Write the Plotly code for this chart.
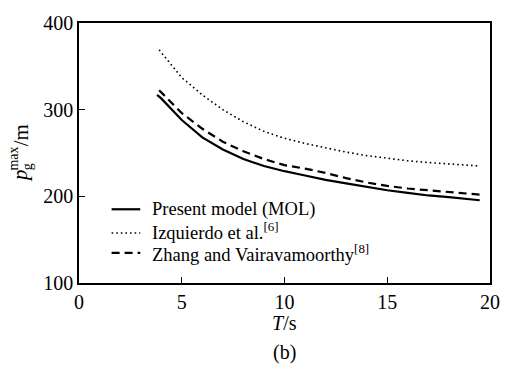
import plotly.graph_objects as go

T = [3.8, 4, 5, 6, 7, 8, 9, 10, 11, 12, 13, 14, 15, 16, 17, 18, 19, 19.5]
present = [317, 313, 288, 268, 254, 243, 235, 229, 224, 219, 215, 211, 207, 204, 201, 199, 196.5, 195.5]
T_iz = [3.9, 4, 5, 6, 7, 8, 9, 10, 11, 12, 13, 14, 15, 16, 17, 18, 19, 19.5]
izquierdo = [369, 366, 337, 317, 300, 286, 275, 267, 261, 256, 251, 247, 244, 241, 239, 237.5, 236, 235]
zhang = [322.5, 320, 296, 278, 263, 252, 243, 236, 232, 227, 221, 216, 212, 209, 207, 205, 203, 202]

names = ["Present model (MOL)", "Izquierdo et al.<sup>[6]</sup>", "Zhang and Vairavamoorthy<sup>[8]</sup>"]
x_ticks = [0, 5, 10, 15, 20]
y_ticks = [100, 200, 300, 400]

FONT = "Times New Roman, Liberation Serif, DejaVu Serif, serif"
W, H = 512, 370
L, R, TOP, B = 79, 17, 15, 87
PW, PH = W - L - R, H - TOP - B


def px(x):
    return (x - L) / PW


def py(y):
    return (H - B - y) / PH


styles = [dict(color="black", width=2.2),
          dict(color="black", width=1.6, dash="1.6px,3px"),
          dict(color="black", width=2.2, dash="8px,5px")]

fig = go.Figure()
for xs, ys, nm, st in zip([T, T_iz, T_iz], [present, izquierdo, zhang], names, styles):
    fig.add_trace(go.Scatter(x=xs, y=ys, mode="lines", name=nm, line=st, showlegend=False))

axis_common = dict(showline=True, linecolor="black", linewidth=1.5, mirror=True,
                   ticks="inside", ticklen=6, tickcolor="black", tickwidth=1,
                   showgrid=False, zeroline=False,
                   tickfont=dict(family=FONT, size=20, color="black"))

fig.update_layout(
    width=W, height=H,
    margin=dict(l=L, r=R, t=TOP, b=B),
    paper_bgcolor="white", plot_bgcolor="white",
    font=dict(family=FONT, size=20, color="black"),
    xaxis=dict(range=[0, 20], tickvals=x_ticks, **axis_common),
    yaxis=dict(range=[100, 400], tickvals=y_ticks, **axis_common),
    showlegend=False,
)

# manual legend
rows_y = [207, 229.5, 252]
for i, (nm, st) in enumerate(zip(names, styles)):
    ly = rows_y[i] + (2 if i == 1 else 0)
    fig.add_shape(type="line", xref="paper", yref="paper",
                  x0=px(112), x1=px(141), y0=py(ly), y1=py(ly),
                  line=st)
    fig.add_annotation(text=nm, xref="paper", yref="paper", x=px(151), y=py(rows_y[i]),
                       xanchor="left", yanchor="middle", showarrow=False,
                       font=dict(family=FONT, size=18.5))

# y-axis title, stacked sub/superscript, rotated
def ylab(text, cx, cy, size):
    fig.add_annotation(text=text, xref="paper", yref="paper", x=px(cx), y=py(cy),
                       xanchor="center", yanchor="middle", textangle=-90,
                       showarrow=False, font=dict(family=FONT, size=size))

ylab("<i>p</i>", 20, 172, 21)
ylab("max", 13, 155, 14)
ylab("g", 27, 163, 14)
ylab("/m", 20, 131, 21)

fig.add_annotation(text="<i>T</i>/s", xref="paper", x=0.5, yref="paper", y=py(324),
                   yanchor="middle", showarrow=False, font=dict(family=FONT, size=20))
fig.add_annotation(text="(b)", xref="paper", x=0.5, yref="paper", y=py(355),
                   yanchor="middle", showarrow=False, font=dict(family=FONT, size=20))

fig.write_html("out.html")
